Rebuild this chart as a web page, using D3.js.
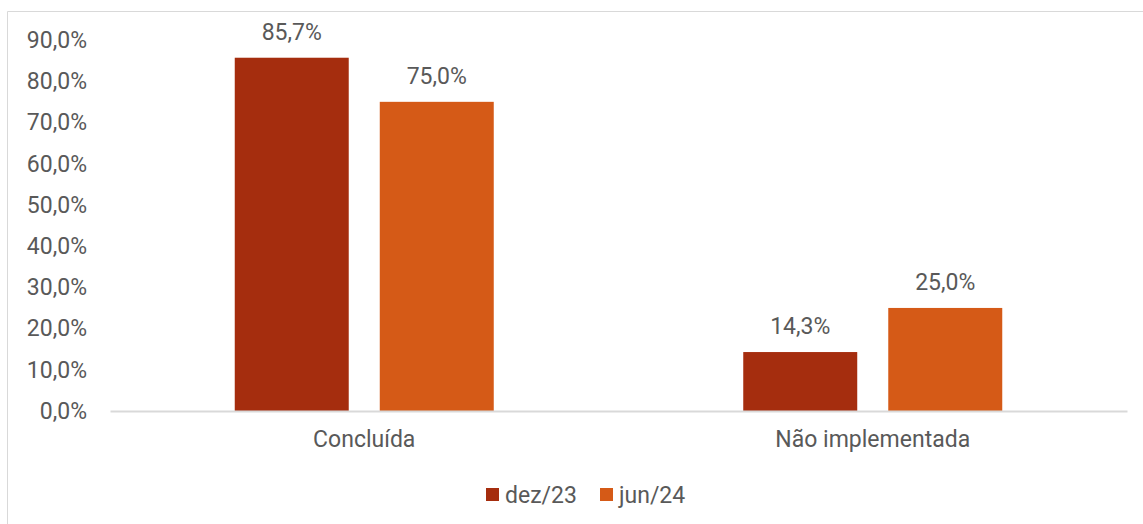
<!DOCTYPE html>
<html><head><meta charset="utf-8">
<script src="https://cdn.jsdelivr.net/npm/d3@7"></script>
<style>body{margin:0;background:#fff}svg{display:block}text{font-family:Roboto,"Noto Sans",sans-serif;fill:#595959}</style>
</head><body><svg id="c" width="1143" height="524"></svg>
<script>
const categories = ["Concluída", "Não implementada"];
const seriesNames = ["dez/23", "jun/24"];
const dez23 = [85.7, 14.3];
const jun24 = [75.0, 25.0];
const yTicks = [0, 10, 20, 30, 40, 50, 60, 70, 80, 90];
const colors = ["#A52D0E", "#D55A17"];

const svg = d3.select("#c");
const W = 1143, H = 524;
const m = {left:110, right:16};
const FS = "23px";
const fmt = v => d3.format(".1f")(v).replace(".", ",") + "%";

// chart border (top and left)
svg.append("line").attr("x1",7.5).attr("x2",W).attr("y1",11.5).attr("y2",11.5).attr("stroke","#d9d9d9");
svg.append("line").attr("x1",7.5).attr("x2",7.5).attr("y1",11.5).attr("y2",H).attr("stroke","#d9d9d9");

const x = d3.scaleBand().domain(categories).range([m.left, W - m.right]);
const y = d3.scaleLinear().domain([0, 90]).range([411, 40]);
const inner = d3.scaleBand().domain(seriesNames).range([0, 259]).paddingInner(0.214);
const groupOff = (x.bandwidth() - 259) / 2;

const data = categories.map((c, i) => ({c, vals: [dez23[i], jun24[i]]}));

// y axis labels
const ya = svg.append("g").attr("transform", `translate(${87},0)`)
  .call(d3.axisLeft(y).tickValues(yTicks).tickFormat(fmt).tickSize(0).tickPadding(0));
ya.select(".domain").remove();
ya.selectAll("text").style("font-size",FS).attr("fill","#595959").attr("font-family","Roboto");

// bars
const g = svg.append("g");
data.forEach(d => {
  d.vals.forEach((v, j) => {
    const bx = x(d.c) + groupOff + inner(seriesNames[j]);
    g.append("rect").attr("x", bx).attr("y", y(v)).attr("width", inner.bandwidth())
      .attr("height", y(0) - y(v)).attr("fill", colors[j]);
    g.append("text").attr("x", bx + inner.bandwidth()/2).attr("y", y(v) - 18)
      .attr("text-anchor","middle").style("font-size",FS).text(fmt(v));
  });
});

// x axis
const xa = svg.append("g").attr("transform", `translate(0,${y(0)})`)
  .call(d3.axisBottom(x).tickSize(0).tickPadding(20));
xa.select(".domain").attr("stroke","#d9d9d9").attr("stroke-width",2);
xa.selectAll("text").style("font-size",FS).attr("fill","#595959").attr("font-family","Roboto");

// legend
const legX = [486, 600];
seriesNames.forEach((s, j) => {
  svg.append("rect").attr("x", legX[j]).attr("y", 488).attr("width", 13).attr("height", 13).attr("fill", colors[j]);
  svg.append("text").attr("x", legX[j] + 19).attr("y", 503).style("font-size",FS).text(s);
});
</script></body></html>
